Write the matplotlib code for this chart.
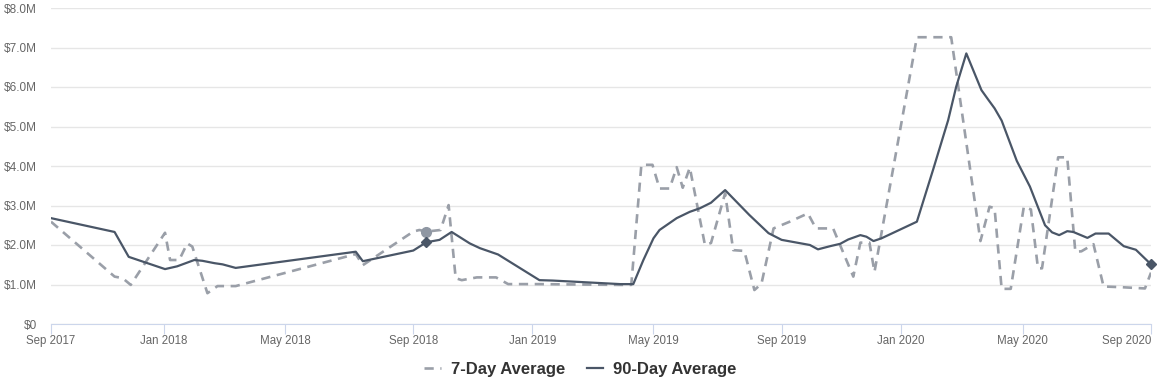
import numpy as np
import pandas as pd
import matplotlib
matplotlib.use("Agg")
import matplotlib.pyplot as plt

# 7-day average (values in $M)
week_dates = [
    "2017-09-11", "2017-11-13", "2017-11-21", "2017-11-29", "2018-01-02", "2018-01-07",
    "2018-01-16", "2018-01-24", "2018-01-29", "2018-02-13", "2018-02-23", "2018-03-13",
    "2018-07-10", "2018-07-17", "2018-09-05", "2018-09-11", "2018-09-18", "2018-10-02",
    "2018-10-10", "2018-10-17", "2018-10-23", "2018-11-07", "2018-11-26", "2018-12-08",
    "2019-01-05", "2019-03-29", "2019-04-09", "2019-04-19", "2019-04-30", "2019-05-07",
    "2019-05-17", "2019-05-24", "2019-05-30", "2019-06-06", "2019-06-21", "2019-06-27",
    "2019-07-11", "2019-07-19", "2019-07-30", "2019-08-09", "2019-08-16", "2019-08-28",
    "2019-09-13", "2019-10-01", "2019-10-09", "2019-10-26", "2019-11-15", "2019-11-22",
    "2019-12-01", "2019-12-06", "2020-01-17", "2020-02-20", "2020-03-20", "2020-03-29",
    "2020-04-03", "2020-04-10", "2020-04-19", "2020-05-02", "2020-05-09", "2020-05-16",
    "2020-05-20", "2020-06-05", "2020-06-14", "2020-06-22", "2020-06-28", "2020-07-10",
    "2020-07-20", "2020-08-08", "2020-08-30", "2020-09-05",
]
week_vals = [
    2.59, 1.20, 1.16, 0.99, 2.31, 1.62,
    1.62, 2.04, 1.96, 0.78, 0.96, 0.96,
    1.77, 1.49, 2.34, 2.38, 2.34, 2.38,
    3.01, 1.16, 1.11, 1.18, 1.18, 1.01,
    1.01, 0.99, 0.99, 4.03, 4.03, 3.43,
    3.43, 3.97, 3.45, 3.96, 2.00, 2.05,
    3.31, 1.87, 1.85, 0.86, 1.02, 2.42,
    2.59, 2.80, 2.42, 2.42, 1.20, 2.06,
    2.06, 1.32, 7.26, 7.26, 2.10, 2.97,
    2.93, 0.89, 0.89, 2.97, 2.90, 1.41,
    1.41, 4.22, 4.22, 1.83, 1.84, 2.02,
    0.95, 0.93, 0.90, 1.30,
]

# 90-day average (values in $M)
quarter_dates = [
    "2017-09-11", "2017-11-13", "2017-11-27", "2018-01-02", "2018-01-14", "2018-01-31",
    "2018-02-08", "2018-02-20", "2018-02-28", "2018-03-13", "2018-07-10", "2018-07-17",
    "2018-09-05", "2018-09-18", "2018-10-01", "2018-10-13", "2018-10-31", "2018-11-10",
    "2018-11-28", "2019-01-08", "2019-01-21", "2019-03-29", "2019-04-11", "2019-04-21",
    "2019-05-01", "2019-05-07", "2019-05-24", "2019-06-06", "2019-06-16", "2019-06-27",
    "2019-07-11", "2019-08-04", "2019-08-23", "2019-09-05", "2019-10-03", "2019-10-11",
    "2019-10-23", "2019-11-02", "2019-11-10", "2019-11-22", "2019-11-28", "2019-12-05",
    "2019-12-13", "2020-01-17", "2020-02-02", "2020-02-17", "2020-02-25", "2020-03-06",
    "2020-03-21", "2020-03-28", "2020-04-03", "2020-04-10", "2020-04-25", "2020-05-08",
    "2020-05-23", "2020-05-30", "2020-06-06", "2020-06-14", "2020-06-20", "2020-07-04",
    "2020-07-12", "2020-07-25", "2020-08-09", "2020-08-21", "2020-09-05",
]
quarter_vals = [
    2.68, 2.33, 1.70, 1.39, 1.46, 1.62,
    1.60, 1.54, 1.51, 1.42, 1.83, 1.59,
    1.86, 2.07, 2.13, 2.33, 2.04, 1.92,
    1.76, 1.11, 1.10, 1.01, 1.01, 1.62,
    2.17, 2.38, 2.68, 2.84, 2.93, 3.07,
    3.39, 2.76, 2.30, 2.13, 2.00, 1.89,
    1.97, 2.03, 2.14, 2.25, 2.21, 2.10,
    2.17, 2.59, 3.90, 5.16, 6.01, 6.85,
    5.92, 5.67, 5.46, 5.15, 4.13, 3.48,
    2.50, 2.32, 2.25, 2.35, 2.33, 2.18,
    2.29, 2.29, 1.97, 1.88, 1.51,
]

# highlighted points
hover_date = "2018-09-18"
tick_dates = ["2017-09-11", "2018-01-01", "2018-05-01", "2018-09-05", "2019-01-01",
              "2019-05-01", "2019-09-05", "2020-01-01", "2020-05-01", "2020-09-05"]
tick_labels = ["Sep 2017", "Jan 2018", "May 2018", "Sep 2018", "Jan 2019",
               "May 2019", "Sep 2019", "Jan 2020", "May 2020", "Sep 2020"]

wd = pd.to_datetime(week_dates)
qd = pd.to_datetime(quarter_dates)

light = "#9a9fa8"
dark = "#4a5667"

fig = plt.figure(figsize=(11.61, 3.81), dpi=100)
ax = fig.add_axes([51 / 1161, 1 - 324 / 381, 1100 / 1161, 316 / 381])

ax.plot(wd, week_vals, color=light, lw=1.9, dashes=(3.5, 2.5), label="7-Day Average", zorder=3)
ax.plot(qd, quarter_vals, color=dark, lw=1.6, label="90-Day Average", zorder=4)

# markers
hw = week_vals[week_dates.index(hover_date)]
hq = quarter_vals[quarter_dates.index(hover_date)]
ax.plot(pd.Timestamp(hover_date), hw, "o", ms=7, color="#8f97a3", zorder=5)
ax.plot(pd.Timestamp(hover_date), hq, "D", ms=5, color=dark, zorder=6)
ax.plot(qd[-1], quarter_vals[-1], "D", ms=5.5, color=dark, zorder=6, clip_on=False)

ax.set_xlim(wd[0], wd[-1])
ax.set_ylim(0, 8)
ax.set_yticks(np.arange(0, 9))
ax.set_yticklabels(["$0"] + [f"${v:.1f}M" for v in range(1, 9)])
ax.set_xticks(pd.to_datetime(tick_dates))
ax.set_xticklabels(tick_labels)
xl = ax.get_xticklabels()
xl[-1].set_horizontalalignment("right")

ax.grid(axis="y", color="#e6e6e6", lw=1)
ax.set_axisbelow(True)
for s in ["left", "right", "top"]:
    ax.spines[s].set_visible(False)
ax.spines["bottom"].set_color("#ccd6eb")
ax.tick_params(axis="y", length=0, pad=10, labelsize=8.5, labelcolor="#666666")
ax.tick_params(axis="x", length=7, color="#ccd6eb", pad=1, labelsize=8.3, labelcolor="#666666")
for t in ax.get_xticklabels() + ax.get_yticklabels():
    t.set_fontfamily(["Liberation Sans", "DejaVu Sans"])

fig.legend(loc="center", bbox_to_anchor=(0.5, 0.031), ncol=2, frameon=False,
           handlelength=1.0, handletextpad=0.6, columnspacing=1.3,
           prop={"family": "Liberation Sans", "weight": "bold", "size": 12},
           labelcolor="#333333")

fig.savefig("out.png", dpi=100)
